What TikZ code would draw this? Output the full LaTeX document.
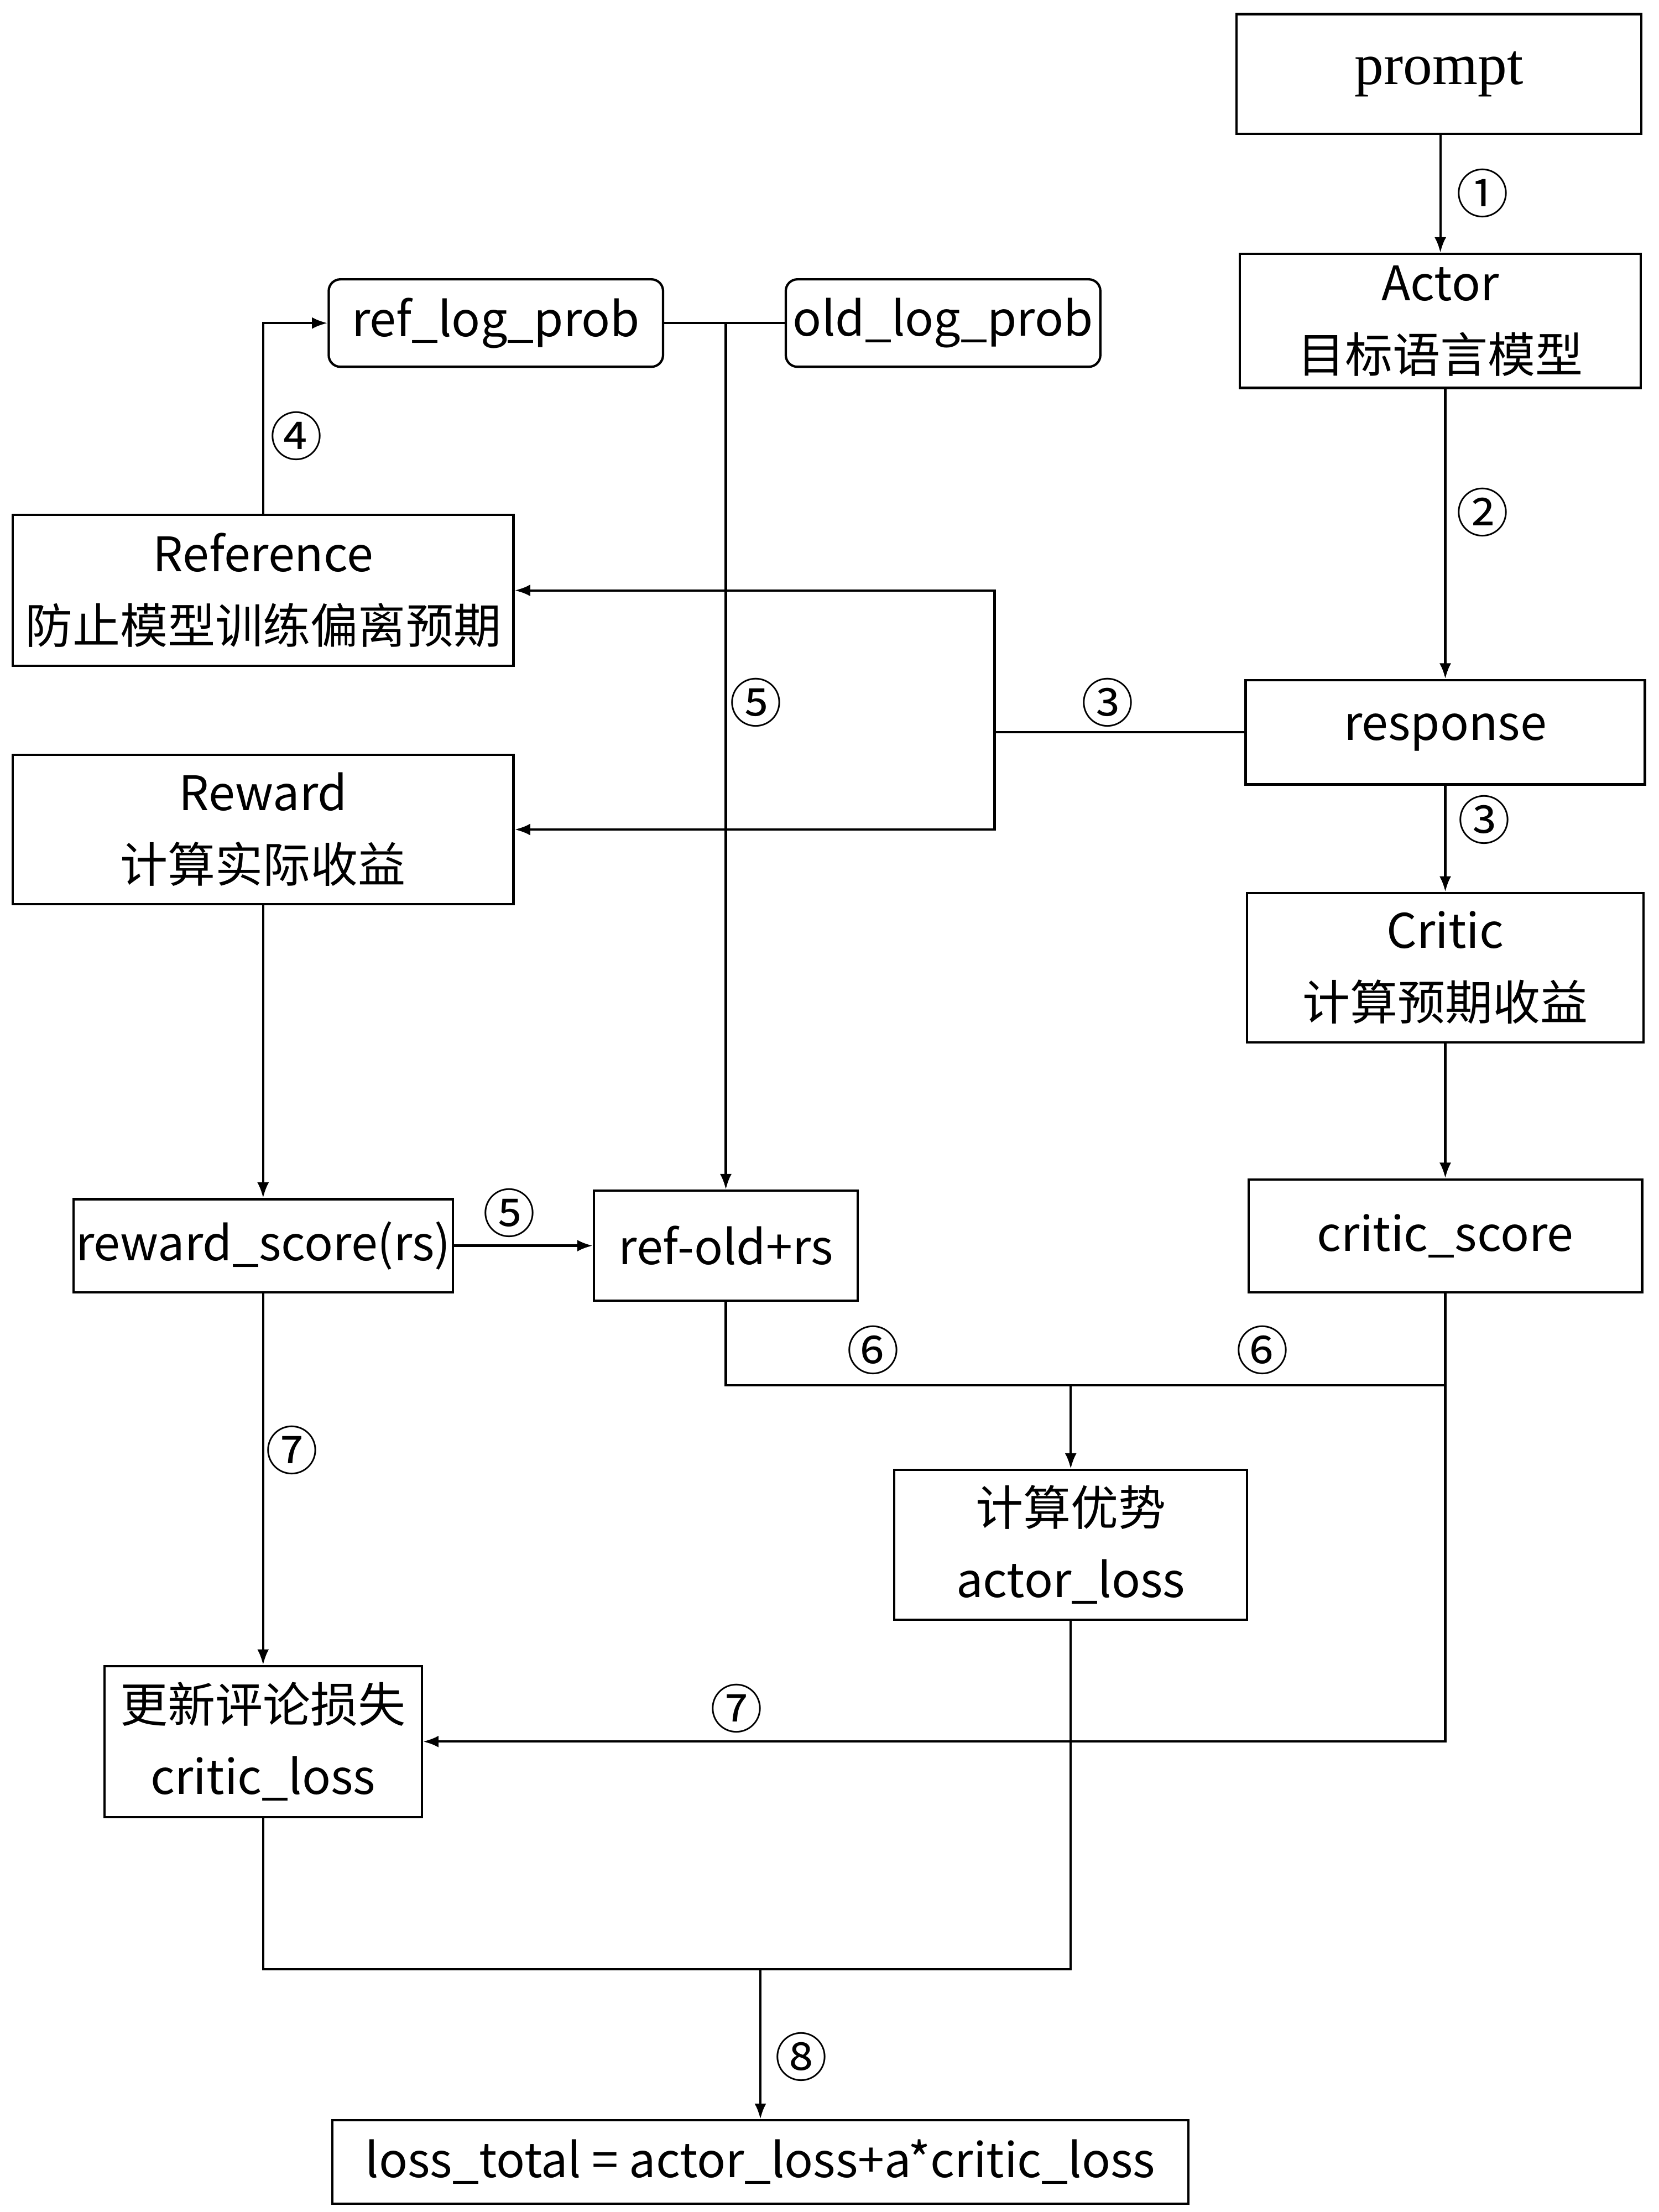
\documentclass[tikz,border=0pt]{standalone}
\usepackage{fontspec}
\newfontfamily\cjk{Noto Sans CJK SC}
\newfontfamily\serifprompt{Liberation Serif}
\usetikzlibrary{positioning}
\usetikzlibrary{arrows.meta}

\tikzset{
	box/.style 2 args={draw, line width=1.2pt, inner sep=0pt, align=center, minimum width=#1*0.2551mm, minimum height=#2*0.2551mm, font=\cjk\fontsize{24.5}{37}\selectfont},
	rbox/.style 2 args={box={#1}{#2}, rounded corners=6pt},
	num/.style={inner sep=0pt, font=\cjk\fontsize{27}{27}\selectfont},
	line/.style={line width=1.2pt},
	arr/.style={line width=1.2pt, -{Latex[length=8pt,width=6pt]}}
}

\begin{document}
\begin{tikzpicture}[x=0.2551mm, y=-0.2551mm]
	\useasboundingbox (0,0) rectangle (1176,1568);
	\node [box={287}{85}, font=\serifprompt\fontsize{30}{37}\selectfont] at (1020,52.5) (PR) {prompt};
	\node [box={284}{95}] at (1021,227.5) (ACT) {Actor\\目标语言模型};
	\node [rbox={237}{62}] at (351.5,229) (REF) {ref\_log\_prob};
	\node [rbox={223}{62}] at (668.5,229) (OLD) {old\_log\_prob};
	\node [box={355}{107}] at (186.5,418.5) (RFM) {Reference\\防止模型训练偏离预期};
	\node [box={283}{74}] at (1024.5,519) (RESP) {response};
	\node [box={355}{106}] at (186.5,588) (RWD) {Reward\\计算实际收益};
	\node [box={281}{106}] at (1024.5,686) (CRT) {Critic\\计算预期收益};
	\node [box={269}{66}] at (186.5,883) (RS) {reward\_score(rs)};
	\node [box={187}{78}] at (514.5,883) (RO) {ref-old+rs};
	\node [box={279}{80}] at (1024.5,876) (CS) {critic\_score};
	\node [box={250}{106}] at (759,1095) (ADV) {计算优势\\actor\_loss};
	\node [box={225}{107}] at (186.5,1234.5) (CL) {更新评论损失\\critic\_loss};
	\node [box={607}{59}] at (539,1532.5) (LT) {loss\_total = actor\_loss+a*critic\_loss};
	\coordinate (J3) at (705,519);
	\coordinate (J5) at (514.5,229);
	\coordinate (J6) at (759,982);
	\coordinate (J8) at (539,1396);
	\draw [arr] (PR.south -| ACT.north) -- (ACT.north);
	\draw [arr] (ACT.south -| RESP.north) -- (RESP.north);
	\draw [line] (RESP.west) -- (J3);
	\draw [arr] (J3) |- (RFM.east);
	\draw [arr] (J3) |- (RWD.east);
	\draw [arr] (RESP.south) -- (CRT.north);
	\draw [arr] (CRT.south) -- (CS.north);
	\draw [arr] (RFM.north) |- (REF.west);
	\draw [line] (REF.east) -- (OLD.west);
	\draw [arr] (J5) -- (RO.north);
	\draw [arr] (RWD.south) -- (RS.north);
	\draw [arr] (RS.east) -- (RO.west);
	\draw [line] (RO.south) |- (J6) -| (CS.south);
	\draw [arr] (J6) -- (ADV.north);
	\draw [arr] (CS.south) |- (CL.east);
	\draw [arr] (RS.south) -- (CL.north);
	\draw [line] (CL.south) |- (J8) -| (ADV.south);
	\draw [arr] (J8) -- (LT.north);
	\node [num] at (1051,137) (N1) {①};
	\node [num] at (1051,363) (N2) {②};
	\node [num] at (785,498) (N3a) {③};
	\node [num] at (1052,581) (N3b) {③};
	\node [num] at (210,309) (N4) {④};
	\node [num] at (536,498) (N5a) {⑤};
	\node [num] at (361,860) (N5b) {⑤};
	\node [num] at (619,957) (N6a) {⑥};
	\node [num] at (895,957) (N6b) {⑥};
	\node [num] at (207,1028) (N7a) {⑦};
	\node [num] at (522,1211) (N7b) {⑦};
	\node [num] at (568,1458) (N8) {⑧};
\end{tikzpicture}
\end{document}
